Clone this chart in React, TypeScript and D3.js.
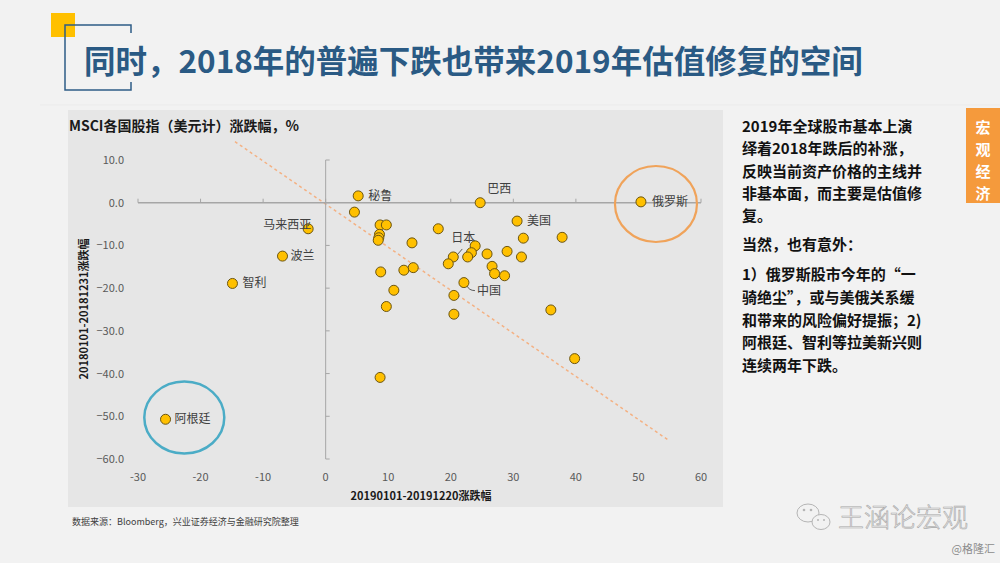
import React from "react";
import * as d3 from "d3";

// ---- data ----
const xChange2019 = [5.2, 4.6, 8.7, 9.7, 8.6, 8.5, 8.4, 13.8, 18.0, 8.8, 10.9, 9.7, 12.5, 14.0, 24.7, 30.6, 37.8, 31.6, 50.4, 20.4, 23.9, 23.3, 22.7, 19.6, 25.8, 29.0, 31.3, 26.6, 27.0, 28.6, 22.1, 20.5, 20.5, 36.0, 39.8, 8.7, -25.6, -2.8, -6.9, -14.9];
const yChange2018 = [1.6, -2.2, -5.2, -5.2, -7.4, -8.2, -8.8, -9.4, -6.1, -16.2, -20.5, -24.3, -15.8, -15.2, 0.0, -4.3, -8.1, -8.3, 0.2, -12.7, -10.1, -11.7, -12.7, -14.3, -12.0, -11.4, -12.7, -14.9, -16.6, -17.1, -18.7, -21.7, -26.1, -25.1, -36.5, -40.9, -50.7, -6.1, -12.5, -18.9];
const countryNames = ["秘鲁", "", "", "", "", "", "", "", "", "", "", "", "", "", "巴西", "美国", "", "", "俄罗斯", "日本", "", "", "", "", "", "", "", "", "", "", "中国", "", "", "", "", "", "阿根廷", "马来西亚", "波兰", "智利"];
const xTicks = [-30, -20, -10, 0, 10, 20, 30, 40, 50, 60];
const yTicks = [10, 0, -10, -20, -30, -40, -50, -60];
const trendX = [-14.5, 55];
const trendY = [14.3, -55.8];

const titleText = "同时，2018年的普遍下跌也带来2019年估值修复的空间";
const chartTitle = "MSCI各国股指（美元计）涨跌幅，%";
const xTitle = "20190101-20191220涨跌幅";
const yTitle = "20180101-20181231涨跌幅";
const sourceText = "数据来源：Bloomberg，兴业证券经济与金融研究院整理";
const sideLines1 = ["2019年全球股市基本上演", "绎着2018年跌后的补涨，", "反映当前资产价格的主线并", "非基本面，而主要是估值修", "复。"];
const sideLines2 = ["当然，也有意外："];
const sideLines3 = ["1）俄罗斯股市今年的“一", "骑绝尘”，或与美俄关系缓", "和带来的风险偏好提振；2)", "阿根廷、智利等拉美新兴则", "连续两年下跌。"];
const tabChars = ["宏", "观", "经", "济"];

// label layout (style, not data): [dx, dy, anchor]
const labelLayout: Record<string, [number, number, string]> = {
  "秘鲁": [10, 4, "start"],
  "巴西": [7, -10, "start"],
  "美国": [10, 4, "start"],
  "俄罗斯": [11, 4, "start"],
  "日本": [10, -15, "middle"],
  "中国": [13, 12, "start"],
  "阿根廷": [9, 4, "start"],
  "马来西亚": [3, 0, "end"],
  "波兰": [8, 4, "start"],
  "智利": [10, 4, "start"],
};

const FONT = "'Noto Sans CJK SC', 'Noto Sans', sans-serif";

export default function App() {
  const x = d3.scaleLinear().domain([-30, 60]).range([138, 701]);
  const y = d3.scaleLinear().domain([-60, 10]).range([459, 160]);
  const fmt = d3.format(".1f");
  const pts = xChange2019.map((v, i) => ({ x: v, y: yChange2018[i], name: countryNames[i] }));
  const trend = d3.line<number>().x((d) => x(d)).y((_, i) => y(trendY[i]));

  return (
    <div style={{ position: "absolute", left: 0, top: 0 }}>
      <svg width={1000} height={563} style={{ display: "block" }} fontFamily={FONT}>
        <rect width={1000} height={563} fill="#f2f2f2" />
        {/* header */}
        <rect x={51} y={13} width={24} height={24} fill="#ffc000" />
        <path d="M131,33 V25 H65 V90 H131 V82" fill="none" stroke="#2e5c86" strokeWidth={1.5} />
        <text x={84} y={73} fontSize={31.5} fontWeight={700} fill="#2a5a84">{titleText}</text>
        <line x1={40} x2={1000} y1={105} y2={105} stroke="#ebebeb" strokeWidth={1} />

        {/* panel */}
        <rect x={68} y={110} width={655} height={397} fill="#e6e6e6" />
        <text x={69} y={131} fontSize={14} fontWeight={700} fill="#1a1a1a">{chartTitle}</text>

        {/* trend line */}
        <path d={trend(trendX) || ""} fill="none" stroke="#f4b183" strokeWidth={1.5} strokeDasharray="3,3" />

        {/* axes */}
        <line x1={x(-30)} x2={x(60)} y1={y(0)} y2={y(0)} stroke="#a6a6a6" strokeWidth={1.5} />
        {xTicks.map((t) => (
          <line key={"xt" + t} x1={x(t)} x2={x(t)} y1={y(0)} y2={y(0) - 4} stroke="#a6a6a6" strokeWidth={1} />
        ))}
        <line x1={x(0)} x2={x(0)} y1={y(10)} y2={y(-60)} stroke="#a6a6a6" strokeWidth={1} />
        {yTicks.map((t) => (
          <line key={"yt" + t} x1={x(0)} x2={x(0) + 4} y1={y(t)} y2={y(t)} stroke="#a6a6a6" strokeWidth={1} />
        ))}
        {yTicks.map((t) => (
          <text key={"yl" + t} x={124} y={y(t) + 4} fontSize={11} textAnchor="end" fill="#595959">{fmt(t)}</text>
        ))}
        {xTicks.map((t) => (
          <text key={"xl" + t} x={x(t)} y={481} fontSize={11} textAnchor="middle" fill="#595959">{t}</text>
        ))}
        <text x={421} y={500} fontSize={11} fontWeight={700} textAnchor="middle" fill="#1a1a1a">{xTitle}</text>
        <text transform={`translate(88,309) rotate(-90)`} fontSize={11} fontWeight={700} textAnchor="middle" fill="#1a1a1a">{yTitle}</text>

        {/* highlight circles */}
        <ellipse cx={x(-22.6)} cy={y(-50.3)} rx={40} ry={36} fill="none" stroke="#4bacc6" strokeWidth={2.5} />
        <ellipse cx={x(52.8)} cy={y(-0.3)} rx={41} ry={38} fill="none" stroke="#f0a35a" strokeWidth={2.2} />

        {/* leader lines */}
        <line x1={x(20.4) + 9} y1={y(-12.7) - 8} x2={x(20.4) + 3} y2={y(-12.7) - 1} stroke="#595959" strokeWidth={1} />
        <path d={`M${x(22.1) + 3},${y(-18.7) + 3} Q${x(22.1) + 5},${y(-18.7) + 8} ${x(22.1) + 11},${y(-18.7) + 8}`} fill="none" stroke="#595959" strokeWidth={1} />

        {/* points */}
        {pts.map((p, i) => (
          <circle key={"p" + i} cx={x(p.x)} cy={y(p.y)} r={5} fill="#ffc000" stroke="#6b5512" strokeWidth={1} />
        ))}
        {pts.filter((p) => p.name).map((p) => {
          const [dx, dy, anchor] = labelLayout[p.name];
          return (
            <text key={"n" + p.name} x={x(p.x) + dx} y={y(p.y) + dy} fontSize={12} textAnchor={anchor as any} fill="#404040">{p.name}</text>
          );
        })}

        {/* source */}
        <text x={72} y={525} fontSize={9} fill="#404040">{sourceText}</text>

        {/* side text */}
        {sideLines1.map((s, i) => (
          <text key={"s1" + i} x={742} y={132 + i * 22.3} fontSize={15} fontWeight={700} fill="#111">{s}</text>
        ))}
        {sideLines2.map((s, i) => (
          <text key={"s2" + i} x={742} y={250 + i * 22.3} fontSize={15} fontWeight={700} fill="#111">{s}</text>
        ))}
        {sideLines3.map((s, i) => (
          <text key={"s3" + i} x={742} y={280 + i * 22.8} fontSize={15} fontWeight={700} fill="#111">{s}</text>
        ))}

        {/* orange tab */}
        <rect x={966} y={108} width={34} height={95} fill="#f59a3c" />
        {tabChars.map((c, i) => (
          <text key={"tc" + i} x={983} y={133 + i * 22} fontSize={15} fontWeight={700} fill="#ffffff" textAnchor="middle">{c}</text>
        ))}

        {/* watermark */}
        <g fill="#f2f2f2" stroke="#b5b5b5" strokeWidth={1}>
          <ellipse cx={808} cy={513} rx={11} ry={9} />
          <ellipse cx={821} cy={522} rx={9} ry={7.5} />
        </g>
        <g fill="#b5b5b5">
          <circle cx={804} cy={510} r={1.3} />
          <circle cx={811} cy={510} r={1.3} />
          <circle cx={818} cy={520} r={1} />
          <circle cx={824} cy={520} r={1} />
        </g>
        <text x={838} y={527} fontSize={26} fontWeight={300} fill="#ececec" stroke="#a8a8a8" strokeWidth={0.6}>王涵论宏观</text>
        <text x={995} y={553} fontSize={11} textAnchor="end" fill="#8c8c8c">@格隆汇</text>
      </svg>
    </div>
  );
}
